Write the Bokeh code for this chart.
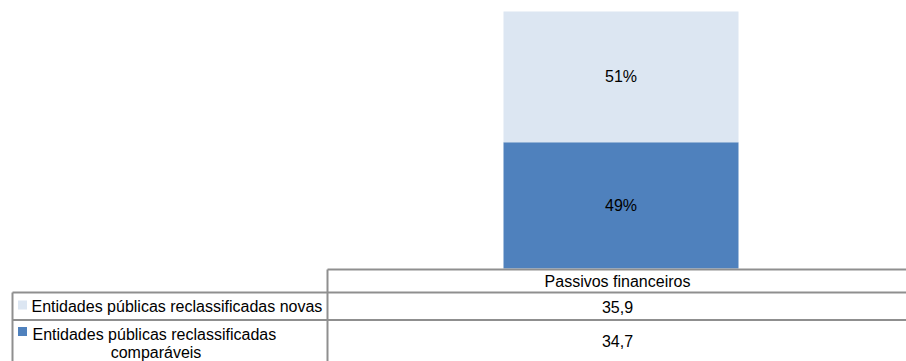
from bokeh.plotting import figure
from bokeh.models import Range1d, ColumnDataSource
from bokeh.core.properties import value
from bokeh.embed import file_html
from bokeh.resources import INLINE

# ---- data ----
category = "Passivos financeiros"
series_names = ["Entidades públicas reclassificadas comparáveis",
                "Entidades públicas reclassificadas novas"]
series_values = [34.7, 35.9]          # bottom -> top
series_colors = ["#4F81BD", "#DCE6F2"]

FONT = value("Liberation Sans")
W, H = 906, 361

total = sum(series_values)
shares = [v / total for v in series_values]
bottoms, tops = [], []
acc = 0.0
for s in shares:
    bottoms.append(acc)
    acc += s
    tops.append(acc)
mids = [(b + t) / 2 for b, t in zip(bottoms, tops)]
pct_labels = [f"{round(s * 100)}%" for s in shares]

# layout: category unit spans 579 px, centred at 620.5 px; 100% spans 257 px, 0% at 268 px
unit_x = 579.0
cx = 620.5
unit_y = 257.0
zero_y = 268.0
x_range = Range1d(-cx / unit_x, (W - cx) / unit_x)
y_range = Range1d(-(H - zero_y) / unit_y, 1 + (zero_y - unit_y) / unit_y)

p = figure(width=W, height=H, x_range=x_range, y_range=y_range,
           output_backend="svg", toolbar_location=None,
           x_axis_location=None, y_axis_location=None,
           min_border=0, outline_line_color=None)
p.grid.visible = False
p.background_fill_color = "white"
p.border_fill_color = "white"
p.extra_x_ranges = {"px": Range1d(0, W)}
p.extra_y_ranges = {"px": Range1d(H, 0)}

src = ColumnDataSource(dict(x=[0.0] * len(shares), bottom=bottoms, top=tops,
                            mid=mids, color=series_colors, label=pct_labels))
p.vbar(x="x", width=235 / unit_x, bottom="bottom", top="top", fill_color="color",
       line_color=None, source=src)
p.text(x="x", y="mid", text="label", source=src, text_font=FONT,
       text_font_size="16px", text_color="#000000",
       text_align="center", text_baseline="middle")

# ---- data table ----
line_col = "#8F8F8F"
p.segment(x0=[327, 12, 12, 327, 12], y0=[269, 292, 319.5, 269, 292],
          x1=[W, W, W, 327, 12], y1=[269, 292, 319.5, H, H],
          line_color=line_col, line_width=2,
          x_range_name="px", y_range_name="px")

TXT = dict(text_font=FONT, text_font_size="16px", text_color="#000000",
           text_baseline="middle", x_range_name="px", y_range_name="px")

col_x = 617
p.text(x=[col_x], y=[280.5], text=[category], text_align="center", **TXT)

fmt = [f"{v:.1f}".replace(".", ",") for v in series_values]
# table rows are listed top series first
p.text(x=[col_x, col_x], y=[306, 340], text=[fmt[1], fmt[0]],
       text_align="center", **TXT)

# legend keys
p.rect(x=[22, 22], y=[304.5, 331], width=9, height=9,
       fill_color=[series_colors[1], series_colors[0]], line_color=None,
       x_range_name="px", y_range_name="px")

# row labels
p.text(x=[31], y=[306], text=[series_names[1]], text_align="left", **TXT)
first, second = series_names[0].rsplit(" ", 1)
p.text(x=[32], y=[333.5], text=[first], text_align="left", **TXT)
p.text(x=[155.5], y=[351.5], text=[second], text_align="center", **TXT)

open("out.html", "w").write(file_html(p, INLINE))
